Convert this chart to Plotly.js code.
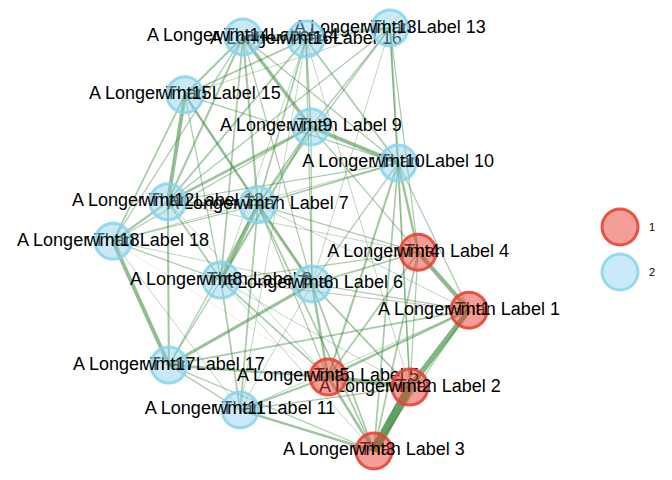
<!DOCTYPE html>
<html>
<head>
<meta charset="utf-8">
<script src="https://cdn.plot.ly/plotly-3.0.1.min.js"></script>
<style>html,body{margin:0;padding:0;background:#fff}#chart{width:672px;height:480px}</style>
</head>
<body>
<div id="chart"></div>
<script>
// ---- node data (layout coordinates, rescaled 0..1) ----
const nodeIds = [1,2,3,4,5,6,7,8,9,10,11,12,13,14,15,16,17,18];
const nodeX = [1.000,0.834,0.733,0.857,0.604,0.559,0.407,0.303,0.556,0.801,0.357,0.154,0.778,0.365,0.202,0.542,0.157,0.000];
const nodeY = [0.333,0.151,0.000,0.470,0.175,0.395,0.582,0.404,0.766,0.681,0.097,0.589,1.000,0.979,0.842,0.974,0.203,0.496];
const nodeGroup = ['1','1','1','1','1','2','2','2','2','2','2','2','2','2','2','2','2','2'];
const nodeShort = nodeIds.map(i => 'wmt' + i);
const nodeLabel = nodeIds.map(i => 'A Longer Than Label ' + i);
const groups = ['1','2'];

// ---- edge data ----
const edgeFrom = [2,1,1,2,17,12,9,9,7,7,6,5,3,3,5,1,4,5,7,9,12,14,15,12,12,8,8,8,7,7,9,10,7,14,14,14,16,16,16,16,13,13,12,12,18,18,15,6,6,6,6,8,8,11,11,11,17,17,10,10,10,10,10,10,9,9,9,9,4,4,4,4,4,1,1,1,1,13,13,13,14,14,14,15,15,15,16,16,18,18,18,7,12,11,2,3,5,5,13,13,16,18,11,8];
const edgeTo   = [3,2,4,5,18,15,10,14,8,6,17,17,11,5,6,5,10,10,15,12,14,15,16,16,18,18,11,17,11,3,13,13,13,16,7,8,9,10,7,6,12,15,8,17,6,9,18,4,1,2,3,4,5,5,2,17,1,3,3,2,1,6,7,12,7,8,4,6,3,2,5,7,12,3,7,8,11,4,14,16,6,10,18,6,8,10,11,8,11,7,10,17,7,6,8,8,7,12,6,2,2,5,2,1];
const edgeWeight = [1.0,0.65,0.5,0.5,0.45,0.45,0.45,0.4,0.45,0.35,0.35,0.3,0.3,0.3,0.3,0.3,0.3,0.25,0.3,0.3,0.25,0.25,0.2,0.2,0.25,0.15,0.2,0.15,0.2,0.2,0.15,0.25,0.15,0.3,0.25,0.2,0.2,0.2,0.2,0.15,0.15,0.1,0.2,0.25,0.1,0.15,0.2,0.2,0.15,0.2,0.2,0.15,0.2,0.25,0.15,0.15,0.2,0.15,0.2,0.2,0.15,0.15,0.2,0.15,0.2,0.25,0.15,0.15,0.2,0.15,0.2,0.15,0.1,0.15,0.1,0.1,0.1,0.15,0.15,0.2,0.15,0.15,0.15,0.1,0.15,0.15,0.1,0.1,0.1,0.15,0.1,0.15,0.15,0.1,0.1,0.1,0.15,0.1,0.1,0.1,0.1,-0.1,-0.1,-0.1];

// ---- build traces ----
const traces = [];
for (let k = 0; k < edgeFrom.length; k++) {
  const a = edgeFrom[k] - 1, b = edgeTo[k] - 1, w = edgeWeight[k];
  const aw = Math.abs(w);
  const col = w >= 0
    ? 'rgba(50,130,50,' + (0.34 + 0.42 * aw).toFixed(3) + ')'
    : 'rgba(240,120,150,0.25)';
  traces.push({
    type: 'scatter', mode: 'lines',
    x: [nodeX[a], nodeX[b]], y: [nodeY[a], nodeY[b]],
    line: {color: col, width: Math.max(0.6, 8.5 * aw)},
    hoverinfo: 'skip', showlegend: false
  });
}

const txtFont = {family: 'Liberation Sans, Arial, sans-serif', size: 18, color: '#000'};

// long labels (under the nodes)
traces.push({
  type: 'scatter', mode: 'text', x: nodeX, y: nodeY, text: nodeLabel,
  textposition: 'middle center', textfont: txtFont, hoverinfo: 'skip', showlegend: false
});

const fillCol = {'1': 'rgba(232,62,50,0.5)', '2': 'rgba(135,206,235,0.45)'};
const lineCol = {'1': 'rgba(232,68,52,0.9)', '2': 'rgba(135,212,236,0.85)'};

groups.forEach(g => {
  const idx = nodeIds.map((_, i) => i).filter(i => nodeGroup[i] === g);
  traces.push({
    type: 'scatter', mode: 'markers',
    x: idx.map(i => nodeX[i]), y: idx.map(i => nodeY[i]),
    marker: {size: 36, color: fillCol[g], line: {color: lineCol[g], width: 3}},
    hoverinfo: 'skip', showlegend: false
  });
});

// short labels (on top)
traces.push({
  type: 'scatter', mode: 'text', x: nodeX, y: nodeY, text: nodeShort,
  textposition: 'middle center', textfont: txtFont, hoverinfo: 'skip', showlegend: false
});

// legend (drawn on an overlay axis in pixel units)
traces.push({
  type: 'scatter', mode: 'markers', xaxis: 'x2', yaxis: 'y2',
  x: groups.map(() => 620), y: groups.map((g, i) => 227 + 45 * i),
  marker: {size: 36, color: groups.map(g => fillCol[g]), line: {color: groups.map(g => lineCol[g]), width: 3}},
  hoverinfo: 'skip', showlegend: false
});
traces.push({
  type: 'scatter', mode: 'text', xaxis: 'x2', yaxis: 'y2',
  x: groups.map(() => 652), y: groups.map((g, i) => 228 + 45 * i), text: groups,
  textposition: 'middle center', textfont: {family: 'Liberation Sans, Arial, sans-serif', size: 11, color: '#000'},
  hoverinfo: 'skip', showlegend: false
});

const hidden = {visible: false, showgrid: false, zeroline: false, showticklabels: false, fixedrange: true};
const layout = {
  width: 672, height: 480,
  margin: {l: 0, r: 0, t: 0, b: 0, pad: 0},
  paper_bgcolor: '#fff', plot_bgcolor: '#fff',
  showlegend: false,
  xaxis: Object.assign({range: [-0.3174, 1.5702]}, hidden),
  yaxis: Object.assign({range: [-0.0686, 1.0662]}, hidden),
  xaxis2: Object.assign({range: [0, 672], overlaying: 'x'}, hidden),
  yaxis2: Object.assign({range: [480, 0], overlaying: 'y'}, hidden),
  hovermode: false
};
Plotly.newPlot('chart', traces, layout, {displayModeBar: false, staticPlot: true});
</script>
</body>
</html>
